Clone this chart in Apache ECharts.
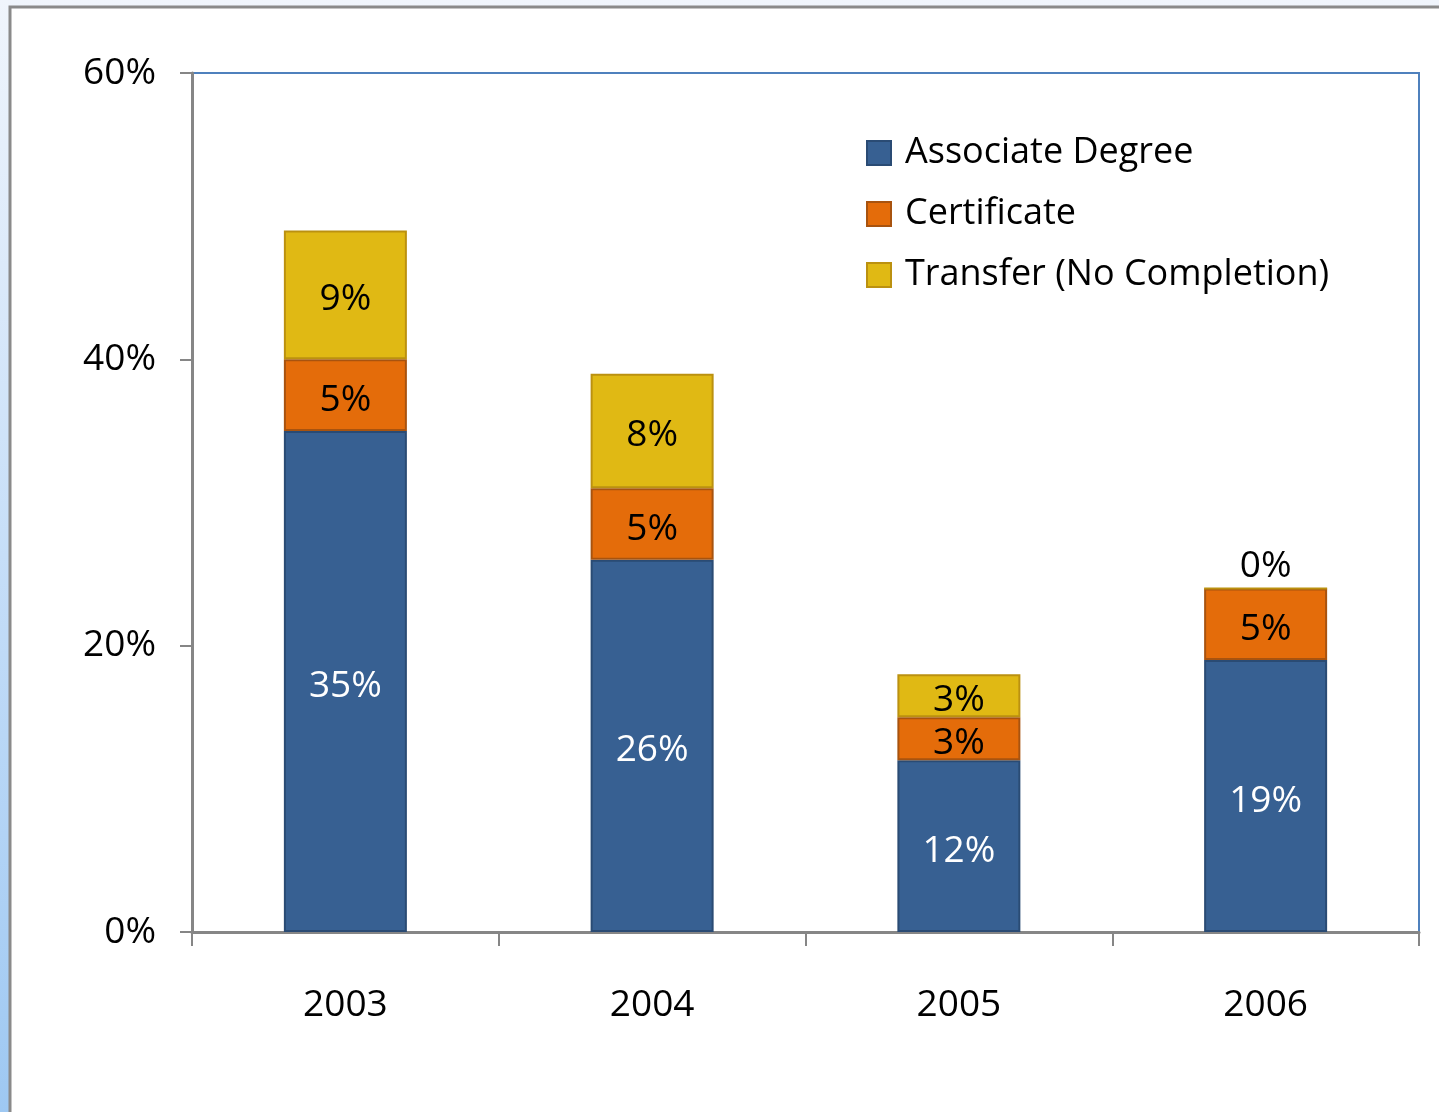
<!DOCTYPE html>
<html>
<head>
<meta charset="utf-8">
<script src="https://cdn.jsdelivr.net/npm/echarts@6/dist/echarts.min.js"></script>
<style>
	html, body { margin: 0; padding: 0; }
	body { width: 1439px; height: 1112px; background: linear-gradient(to bottom, #f0f5fc 0%, #c6def8 50%, #9ec8f2 100%); }
	#chart { width: 1439px; height: 1112px; }
</style>
</head>
<body>
<div id="chart"></div>
<script>
var years = ['2003', '2004', '2005', '2006'];
var associateDegree = [35, 26, 12, 19];
var certificate = [5, 5, 3, 5];
var transfer = [9, 8, 3, 0];
var yTicks = [0, 20, 40, 60];

var font = 'Open Sans';

// zero value labels go above the stack, like the original
function toData(values){
	var out = [];
	for(var i = 0; i < values.length; i++){
		var item = {value: values[i]};
		if(values[i] == 0){
			item.label = {position: 'top', distance: 2, offset: [0, 0]};
		}
		out.push(item);
	}
	return out;
}

function makeSeries(name, values, color, border, labelColor){
	return {
		name: name,
		type: 'bar',
		stack: 'total',
		barWidth: 123,
		data: toData(values),
		itemStyle: {color: color, borderColor: border, borderWidth: 2},
		label: {
			show: true,
			position: 'inside',
			offset: [0, 5],
			formatter: '{c}%',
			color: labelColor,
			fontFamily: font,
			fontSize: 37
		}
	};
}

var myChart = echarts.init(document.getElementById('chart'));

var option = {
	animation: false,
	graphic: [{
		type: 'rect',
		z: -10,
		silent: true,
		shape: {x: 10, y: 7, width: 1440, height: 1120},
		style: {fill: '#ffffff', stroke: '#8a8a8a', lineWidth: 3}
	}],
	grid: {
		left: 192,
		right: 20,
		top: 73,
		bottom: 180,
		show: true,
		borderColor: '#4f81bd',
		borderWidth: 2,
		backgroundColor: '#ffffff'
	},
	legend: {
		orient: 'vertical',
		left: 861,
		top: 130,
		icon: 'rect',
		itemWidth: 24,
		itemHeight: 24,
		itemGap: 25,
		textStyle: {fontFamily: font, fontSize: 36, color: '#000', padding: [0, 0, 0, 9]},
		data: ['Associate Degree', 'Certificate', 'Transfer (No Completion)']
	},
	xAxis: {
		type: 'category',
		data: years,
		axisLine: {lineStyle: {color: '#868686', width: 3}},
		axisTick: {show: true, length: 14, lineStyle: {color: '#868686', width: 2}},
		axisLabel: {fontFamily: font, fontSize: 37, color: '#000', margin: 55}
	},
	yAxis: {
		type: 'value',
		min: yTicks[0],
		max: yTicks[yTicks.length - 1],
		interval: 20,
		splitLine: {show: false},
		axisLine: {show: true, lineStyle: {color: '#868686', width: 3}},
		axisTick: {show: true, length: 12, lineStyle: {color: '#868686', width: 2}},
		axisLabel: {fontFamily: font, fontSize: 37, color: '#000', margin: 36, padding: [10, 0, 0, 0], formatter: '{value}%'}
	},
	series: [
		makeSeries('Associate Degree', associateDegree, '#376092', '#2a4b74', '#ffffff'),
		makeSeries('Certificate', certificate, '#e46c0a', '#a8530f', '#000000'),
		makeSeries('Transfer (No Completion)', transfer, '#e0b914', '#bb9110', '#000000')
	]
};

myChart.setOption(option);
</script>
</body>
</html>
